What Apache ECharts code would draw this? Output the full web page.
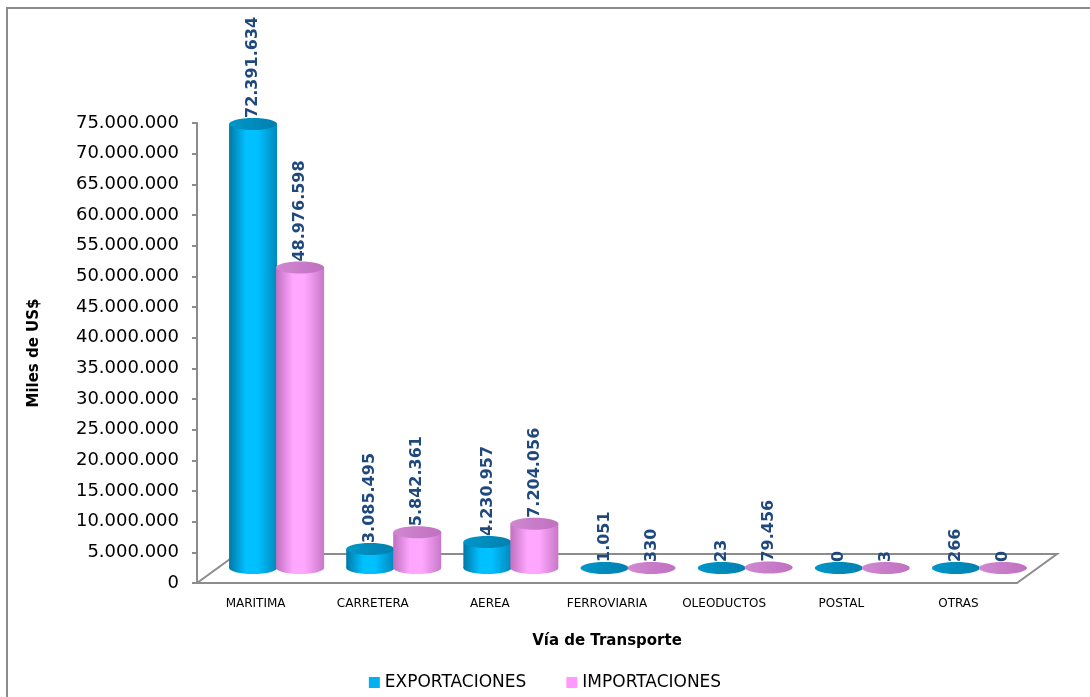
<!DOCTYPE html>
<html><head><meta charset="utf-8">
<style>html,body{margin:0;padding:0;background:#fff}#c{width:1090px;height:697px}</style>
<script src="https://cdn.jsdelivr.net/npm/echarts@6/dist/echarts.min.js"></script>
</head><body><div id="c"></div>
<script>
var categories = ['MARITIMA','CARRETERA','AEREA','FERROVIARIA','OLEODUCTOS','POSTAL','OTRAS'];
var exportaciones = [72391634, 3085495, 4230957, 1051, 23, 0, 266];
var importaciones = [48976598, 5842361, 7204056, 330, 79456, 3, 0];
var yTicks = {min: 0, max: 75000000, interval: 5000000};
var FONT = '"DejaVu Sans", sans-serif';
var DX = 21, DY = -15;

function fmt(v){ return String(Math.round(v)).replace(/\B(?=(\d{3})+(?!\d))/g,'.'); }

function cylinder(side, cols){
  return function(params, api){
    var idx = api.value(0), val = api.value(1);
    var base = api.coord([idx, 0]);
    var top = api.coord([idx, val]);
    var w = 48, h = 12;
    var cx = base[0] + DX + side * 23.5;
    var by = base[1] + DY, ty = top[1] + DY;
    var grad = new echarts.graphic.LinearGradient(0,0,1,0,[
      {offset:0,color:cols[0]},{offset:0.35,color:cols[1]},{offset:0.6,color:cols[1]},{offset:1,color:cols[2]}]);
    var lid = new echarts.graphic.LinearGradient(0,0,1,0,[
      {offset:0,color:cols[3]},{offset:1,color:cols[4]}]);
    var children = [];
    if (by - ty > 0.5) {
      children.push({type:'ellipse', shape:{cx:cx, cy:by, rx:w/2, ry:h/2}, style:{fill:grad}});
      children.push({type:'rect', shape:{x:cx-w/2, y:ty, width:w, height:by-ty}, style:{fill:grad}});
    }
    children.push({type:'ellipse', shape:{cx:cx, cy:ty, rx:w/2, ry:h/2}, style:{fill:lid}});
    children.push({type:'text', x:cx, y:ty - 6, rotation: Math.PI/2,
      style:{text: fmt(val), fill:'#1F497D', font:'bold 16px ' + FONT, align:'left', verticalAlign:'middle'}});
    return {type:'group', children: children};
  };
}

function floor(params, api){
  var cs = params.coordSys;
  var x0 = cs.x, x1 = cs.x + cs.width, y0 = cs.y + cs.height;
  var bx = 40, by = -29;
  var st = {stroke:'#8c8c8c', lineWidth:2, fill:'none'};
  return {type:'group', children:[
    {type:'polyline', shape:{points:[[x0,y0],[x0+bx,y0+by],[x1+bx,y0+by],[x1,y0]]}, style:st}
  ]};
}

var chart = echarts.init(document.getElementById('c'));
chart.setOption({
  animation:false,
  graphic:[
    {type:'polyline', shape:{points:[[7,700],[7,8],[1092,8]]}, style:{stroke:'#8c8c8c', lineWidth:2, fill:'none'}}
  ],
  grid:{left:197, right:73, top:123, bottom:114},
  legend:{bottom:1, left:'center', itemWidth:11, itemHeight:11, itemGap:40, icon:'rect',
    textStyle:{fontFamily:FONT, fontSize:17, color:'#000'},
    data:[{name:'EXPORTACIONES', itemStyle:{color:'#00B0F0'}},{name:'IMPORTACIONES', itemStyle:{color:'#FF99FF'}}]},
  xAxis:{type:'category', data:categories, name:'Vía de Transporte', nameLocation:'middle', nameGap:51,
    nameTextStyle:{fontFamily:FONT, fontWeight:'bold', fontSize:15, color:'#000'},
    axisLine:{lineStyle:{color:'#8c8c8c', width:2}}, axisTick:{length:6, lineStyle:{color:'#8c8c8c', width:2}},
    axisLabel:{fontFamily:FONT, fontSize:12, color:'#000', margin:15, interval:0, hideOverlap:false}},
  yAxis:{type:'value', min:yTicks.min, max:yTicks.max, interval:yTicks.interval,
    name:'Miles de US$', nameLocation:'middle', nameGap:155, nameRotate:90,
    nameTextStyle:{fontFamily:FONT, fontWeight:'bold', fontSize:15, color:'#000'},
    axisLine:{show:true, lineStyle:{color:'#8c8c8c', width:2}},
    axisTick:{show:true, length:5, inside:false, lineStyle:{color:'#8c8c8c', width:2}},
    splitLine:{show:false},
    axisLabel:{fontFamily:FONT, fontSize:18, color:'#000', margin:18, formatter:fmt}},
  series:[
    {type:'custom', name:'floor', data:[[0,0]], renderItem:floor, z:1, silent:true, legendHoverLink:false},
    {type:'custom', name:'EXPORTACIONES', data:exportaciones.map(function(v,i){return [i,v];}), z:3,
      itemStyle:{color:'#00B0F0'},
      renderItem:cylinder(-1, ['#0079a8','#00C0FF','#0088bb','#0096c8','#0080b0'])},
    {type:'custom', name:'IMPORTACIONES', data:importaciones.map(function(v,i){return [i,v];}), z:4,
      itemStyle:{color:'#FF99FF'},
      renderItem:cylinder(1, ['#c070c0','#FFA6FF','#c878c8','#d088d0','#C070C0'])}
  ]
});
</script></body></html>
